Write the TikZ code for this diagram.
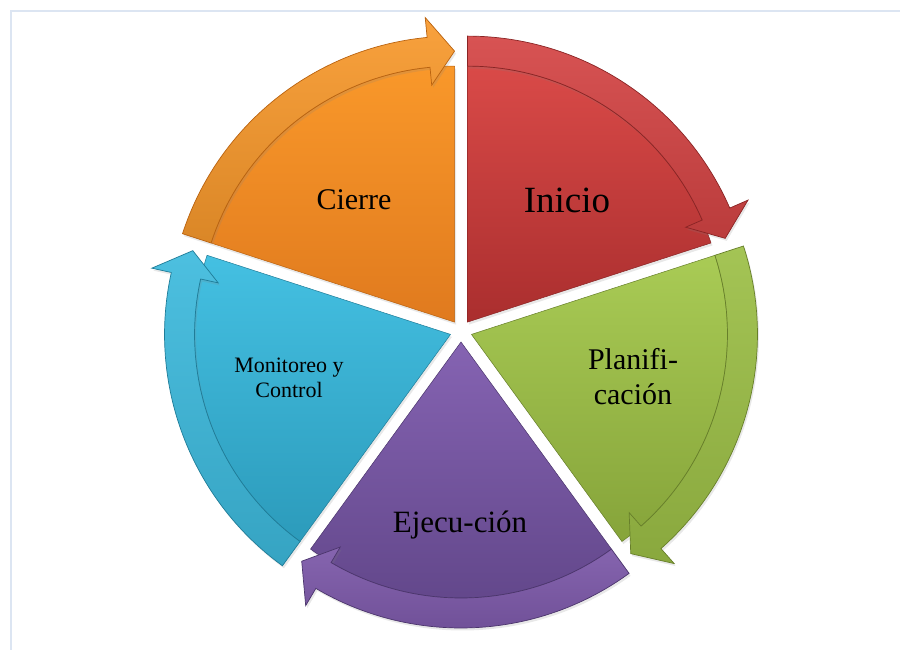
\documentclass[tikz,border=0pt]{standalone}
\usepackage{fontspec}
\setmainfont{Liberation Serif}
\usetikzlibrary{shadows}

\definecolor{frameblue}{HTML}{DCE5F2}
\definecolor{iniTop}{HTML}{D94A48}\definecolor{iniBot}{HTML}{AA2E2E}\definecolor{iniBand}{HTML}{D44444}\definecolor{iniEdge}{HTML}{8A2424}
\definecolor{plaTop}{HTML}{A9CB55}\definecolor{plaBot}{HTML}{86A43A}\definecolor{plaBand}{HTML}{9CBF46}\definecolor{plaEdge}{HTML}{677F2A}
\definecolor{ejeTop}{HTML}{8563B2}\definecolor{ejeBot}{HTML}{614689}\definecolor{ejeBand}{HTML}{7B57A8}\definecolor{ejeEdge}{HTML}{4B356C}
\definecolor{monTop}{HTML}{44C0E2}\definecolor{monBot}{HTML}{2C9BBB}\definecolor{monBand}{HTML}{3DBADD}\definecolor{monEdge}{HTML}{1F7C98}
\definecolor{cieTop}{HTML}{F9982A}\definecolor{cieBot}{HTML}{E07A1E}\definecolor{cieBand}{HTML}{F8992C}\definecolor{cieEdge}{HTML}{B9620F}

\begin{document}
\begin{tikzpicture}[x=1pt, y=1pt]
        \tikzstyle{every node}=[text=black, align=center, inner sep=1pt]
        \tikzstyle{wedge}=[line width=0.5pt, line join=round, drop shadow={opacity=0.18, shadow xshift=1.5pt, shadow yshift=-2.5pt}]
        \tikzstyle{band}=[line width=0.7pt, line join=miter, drop shadow={opacity=0.18, shadow xshift=1.5pt, shadow yshift=-2.5pt}]

        \useasboundingbox (-461,-319) rectangle (439,331);
        \draw[frameblue, line width=2.5pt] (-450,-319) -- (-450,320) -- (439,320);

% five exploded slices, each with an arrow band running clockwise
        \foreach \nm/\bis in {ini/54, pla/-18, eje/-90, mon/-162, cie/126}{
            \pgfmathsetmacro\s{\bis+36}
            \pgfmathsetmacro\e{\bis-36}
            \pgfmathsetmacro\h{\bis-30.5}
            \begin{scope}[shift={(\bis:11)}]
                \path[wedge, top color=\nm Top, bottom color=\nm Bot, draw=\nm Edge] (0,0) -- (\s:256) arc[start angle=\s, end angle=\e, radius=256] -- cycle;
                \path[band, top color=\nm Band!92!white, bottom color=\nm Band!88!black, draw=\nm Edge] (\s:256) -- (\s:286) arc[start angle=\s, end angle=\h, radius=286] -- (\h:306) -- (\e:271) -- (\h:238) -- (\h:256) arc[start angle=\h, end angle=\s, radius=256] -- cycle;
            \end{scope}
        }

        \node[font={\fontsize{30}{34}\selectfont}] (cierre) at (-107,131) {Cierre};
        \node[font={\fontsize{37}{42}\selectfont}] (inicio) at (106,131) {Inicio};
        \node[font={\fontsize{30}{35}\selectfont}] (plan) at (172,-46) {Planifi-\\cación};
        \node[font={\fontsize{31}{35}\selectfont}] (ejec) at (-1,-194) {Ejecu-ción};
        \node[font={\fontsize{22}{25}\selectfont}] (monit) at (-172,-47) {Monitoreo y\\Control};

    \end{tikzpicture}
\end{document}
